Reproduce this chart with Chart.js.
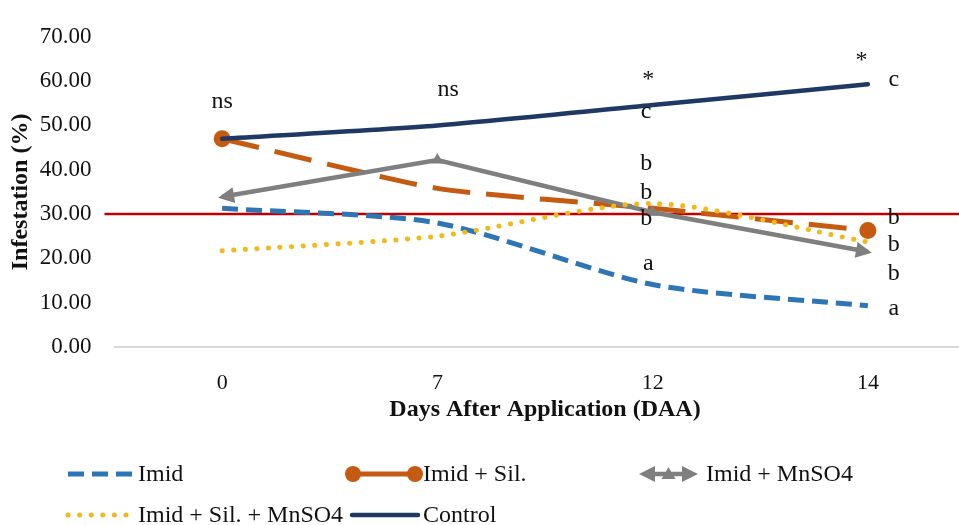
<!DOCTYPE html>
<html><head><meta charset="utf-8">
<script src="https://cdn.jsdelivr.net/npm/chart.js@4.4.1/dist/chart.umd.min.js"></script>
<style>html,body{margin:0;padding:0;overflow:hidden;background:#fff}#wrap{width:984px;height:525px;position:relative}</style>
</head><body><div id="wrap"><canvas id="c"></canvas></div>
<script>
// ---- data ----
const categories = ['0', '7', '12', '14'];
const imid       = [31.3, 28.0, 14.1, 9.3];
const imidSil    = [47.0, 35.8, 31.3, 26.3];
const imidMn     = [33.9, 42.2, 30.4, 21.5];
const imidSilMn  = [21.7, 25.0, 32.4, 23.7];
const control    = [47.0, 50.0, 54.6, 59.3];
const threshold  = 30;
const yMin = 0, yMax = 70, yStep = 10;
const seriesNames = ['Imid', 'Imid + Sil.', 'Imid + MnSO4', 'Imid + Sil. + MnSO4', 'Control'];
// significance letters: text, category position, value position
const annotTexts = ['ns', 'ns', '*', 'c', 'b', 'b', 'b', 'a', '*', 'c', 'b', 'b', 'b', 'a'];
const annotCat   = [0, 1.05, 1.98, 1.97, 1.97, 1.97, 1.97, 1.98, 2.97, 3.12, 3.12, 3.12, 3.12, 3.12];
const annotVal   = [55.3, 58.1, 60.4, 53.1, 41.3, 34.8, 29.0, 18.8, 64.6, 60.3, 29.1, 23.1, 16.5, 8.6];

const FONT = "'Liberation Serif', 'Times New Roman', serif";
const C_BLUE = '#2E75B6', C_ORANGE = '#C55A11', C_GRAY = '#7F7F7F', C_YELLOW = '#F2B81C', C_NAVY = '#1F3864', C_RED = '#C00000';

function drawArrow(ctx, tx, ty, fx, fy, color, len, half) {
  const a = Math.atan2(ty - fy, tx - fx);
  ctx.save();
  ctx.fillStyle = color;
  ctx.beginPath();
  ctx.moveTo(tx, ty);
  ctx.lineTo(tx - len * Math.cos(a) + half * Math.sin(a), ty - len * Math.sin(a) - half * Math.cos(a));
  ctx.lineTo(tx - len * Math.cos(a) - half * Math.sin(a), ty - len * Math.sin(a) + half * Math.cos(a));
  ctx.closePath();
  ctx.fill();
  ctx.restore();
}

const extras = {
  id: 'extras',
  beforeDatasetsDraw(chart) {
    const {ctx, chartArea, scales} = chart;
    const y = scales.y.getPixelForValue(threshold);
    ctx.save();
    ctx.strokeStyle = C_RED;
    ctx.lineWidth = 2.5;
    ctx.beginPath();
    ctx.moveTo(chartArea.left - 10, y);
    ctx.lineTo(chartArea.right, y);
    ctx.stroke();
    ctx.restore();
  },
  afterDatasetsDraw(chart) {
    const {ctx, scales} = chart;
    chart.data.datasets.forEach((ds, i) => {
      if (!ds.arrowEnds) return;
      const pts = chart.getDatasetMeta(i).data;
      const n = pts.length;
      drawArrow(ctx, pts[0].x - 4, pts[0].y + 1, pts[1].x, pts[1].y, ds.borderColor, 16, 8);
      drawArrow(ctx, pts[n - 1].x + 4, pts[n - 1].y + 1, pts[n - 2].x, pts[n - 2].y, ds.borderColor, 16, 8);
    });
    ctx.save();
    ctx.fillStyle = '#111';
    ctx.font = '24px ' + FONT;
    ctx.textAlign = 'center';
    ctx.textBaseline = 'middle';
    annotTexts.forEach((t, i) => {
      ctx.fillText(t, scales.x.getPixelForValue(annotCat[i]), scales.y.getPixelForValue(annotVal[i]));
    });
    ctx.restore();
  },
  afterDraw(chart) {
    const {ctx} = chart;
    const ds = chart.data.datasets;
    const items = [
      {x0: 68, x1: 132, y: 474, tx: 138},
      {x0: 353, x1: 415, y: 474, tx: 423},
      {x0: 639, x1: 698, y: 474, tx: 706},
      {x0: 68, x1: 132, y: 515, tx: 138},
      {x0: 352, x1: 418, y: 515, tx: 423}
    ];
    items.forEach((it, i) => {
      const d = ds[i];
      ctx.save();
      ctx.strokeStyle = d.borderColor;
      ctx.lineWidth = d.borderWidth;
      ctx.lineCap = d.borderCapStyle || 'butt';
      ctx.setLineDash(d.legendDash || d.borderDash || []);
      let x0 = it.x0, x1 = it.x1;
      if (d.arrowEnds) { x0 += 12; x1 -= 12; }
      ctx.beginPath();
      ctx.moveTo(x0, it.y);
      ctx.lineTo(x1, it.y);
      ctx.stroke();
      ctx.setLineDash([]);
      if (d.legendEnds === 'circle') {
        ctx.fillStyle = d.borderColor;
        [it.x0, it.x1].forEach(cx => { ctx.beginPath(); ctx.arc(cx, it.y, 8, 0, Math.PI * 2); ctx.fill(); });
      }
      if (d.arrowEnds) {
        drawArrow(ctx, it.x0, it.y, it.x1, it.y, d.borderColor, 16, 8);
        drawArrow(ctx, it.x1, it.y, it.x0, it.y, d.borderColor, 16, 8);
        const cx = (it.x0 + it.x1) / 2;
        ctx.fillStyle = d.borderColor;
        ctx.beginPath();
        ctx.moveTo(cx, it.y - 7); ctx.lineTo(cx + 7, it.y + 5); ctx.lineTo(cx - 7, it.y + 5); ctx.closePath(); ctx.fill();
      }
      ctx.fillStyle = '#111';
      ctx.font = '24px ' + FONT;
      ctx.textAlign = 'left';
      ctx.textBaseline = 'middle';
      ctx.fillText(seriesNames[i], it.tx, it.y + 1);
      ctx.restore();
    });
  }
};

const n = categories.length;
new Chart(document.getElementById('c'), {
  type: 'line',
  data: {
    labels: categories,
    datasets: [
      {label: seriesNames[0], data: imid, borderColor: C_BLUE, backgroundColor: C_BLUE, borderWidth: 5,
       borderDash: [16, 8], tension: 0.25, pointRadius: 0, order: 5},
      {label: seriesNames[1], data: imidSil, borderColor: C_ORANGE, backgroundColor: C_ORANGE, borderWidth: 5,
       borderDash: [38, 16], legendDash: [], legendEnds: 'circle', tension: 0.2,
       pointRadius: c => (c.dataIndex === 0 || c.dataIndex === n - 1) ? 8.5 : 0, pointBorderWidth: 0, order: 4},
      {label: seriesNames[2], data: imidMn, borderColor: C_GRAY, backgroundColor: C_GRAY, borderWidth: 4.5,
       tension: 0, pointStyle: 'triangle', arrowEnds: true,
       pointRadius: c => (c.dataIndex === 0 || c.dataIndex === n - 1) ? 0 : 7, pointBorderWidth: 0, order: 3},
      {label: seriesNames[3], data: imidSilMn, borderColor: C_YELLOW, backgroundColor: C_YELLOW, borderWidth: 5,
       borderDash: [0.1, 11.5], borderCapStyle: 'round', tension: 0.25, pointRadius: 0, order: 2},
      {label: seriesNames[4], data: control, borderColor: C_NAVY, backgroundColor: C_NAVY, borderWidth: 4.5,
       borderCapStyle: 'round', tension: 0.25, pointRadius: 0, order: 1}
    ]
  },
  options: {
    responsive: true,
    maintainAspectRatio: false,
    animation: false,
    layout: {padding: {left: 2, right: 1.5, top: 25, bottom: 97}},
    plugins: {legend: {display: false}, tooltip: {enabled: false}},
    scales: {
      x: {
        offset: true,
        grid: {display: false, drawTicks: false, offset: true},
        border: {display: true, color: '#D9D9D9', width: 2},
        ticks: {color: '#111', font: {family: FONT, size: 22}, padding: 23},
        title: {display: true, text: 'Days After Application (DAA)', color: '#111',
                font: {family: FONT, size: 24, weight: 'bold'}, padding: {top: 4, bottom: 4}},
        afterFit: s => { s.height = 81; s.paddingLeft = 0; s.paddingRight = 0; }
      },
      y: {
        min: yMin, max: yMax,
        grid: {display: false, drawTicks: false},
        border: {display: false},
        ticks: {stepSize: yStep, color: '#111', font: {family: FONT, size: 23}, padding: 23,
                callback: v => Number(v).toFixed(2)},
        title: {display: true, text: 'Infestation (%)', color: '#111',
                font: {family: FONT, size: 24, weight: 'bold'}, padding: {top: 4, bottom: 4}},
        afterFit: s => { s.width = 112.5; }
      }
    }
  },
  plugins: [extras]
});
</script>
</body></html>
